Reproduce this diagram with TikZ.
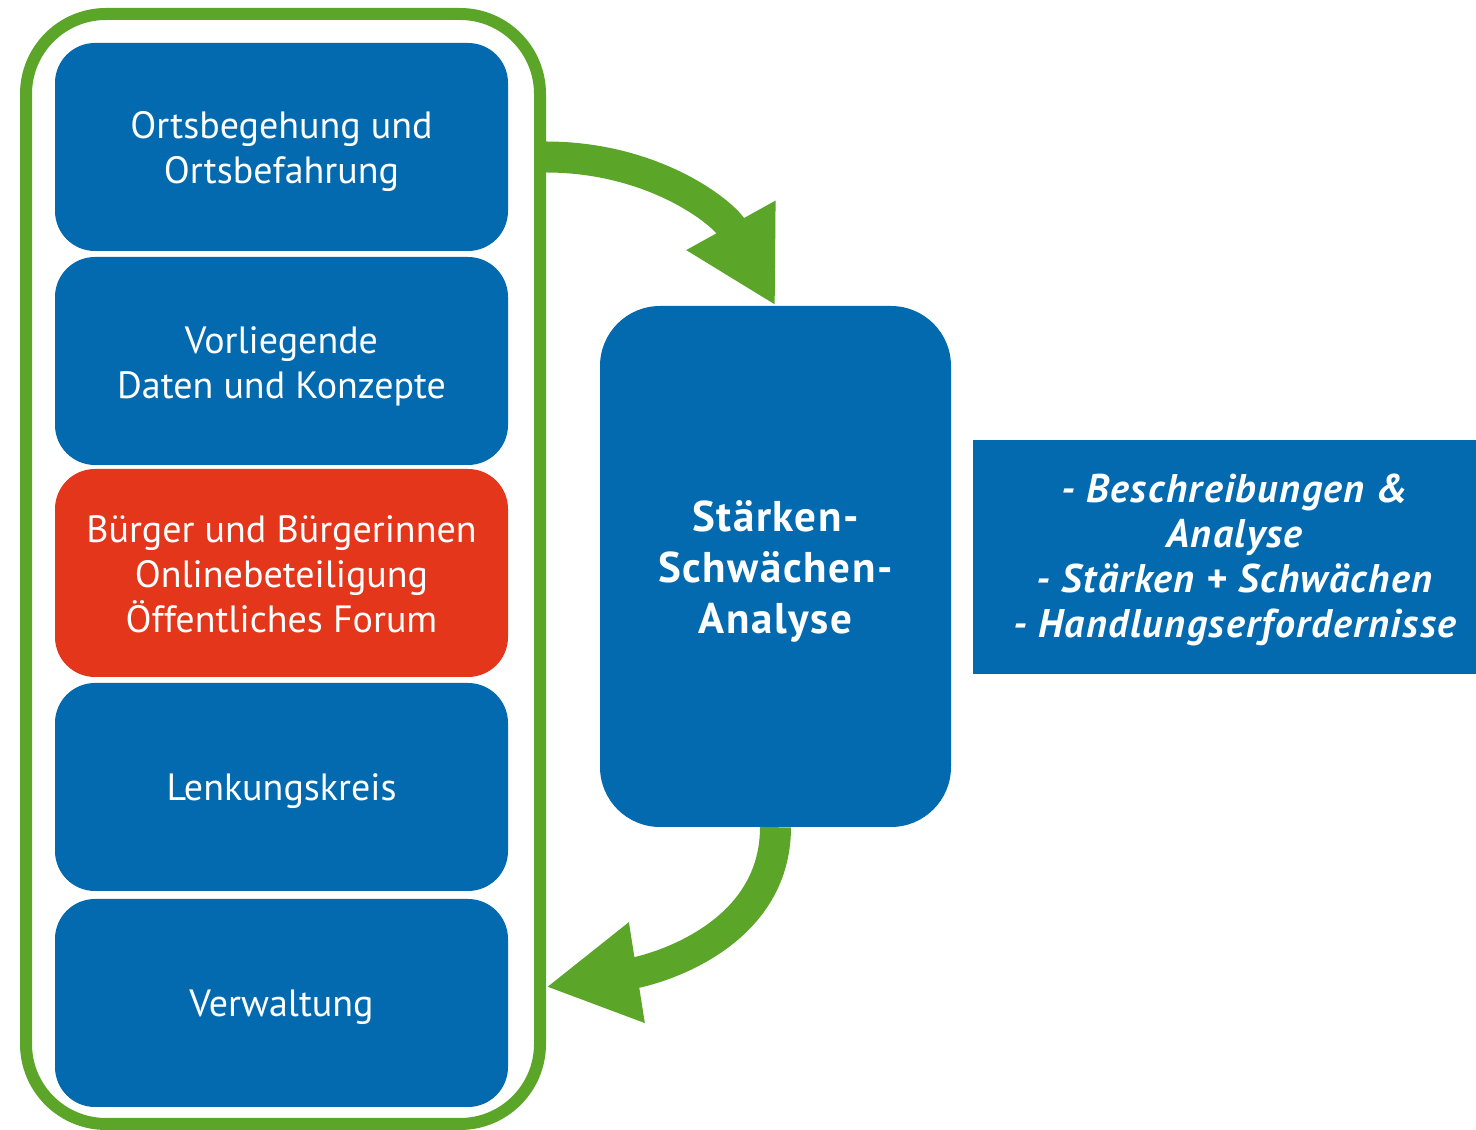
\documentclass[tikz,border=0pt]{standalone}
\usepackage{fontspec}
\setmainfont{PT Sans}
\newfontfamily\spacedfont[LetterSpace=3.7]{PT Sans}
\usetikzlibrary{arrows.meta}
\definecolor{cblue}{RGB}{3,106,175}
\definecolor{cred}{RGB}{227,54,27}
\definecolor{cgreen}{RGB}{91,165,40}
\begin{document}
\begin{tikzpicture}[x=1pt,y=1pt,
  item/.style={fill=cblue, rounded corners=40pt, minimum width=453pt, minimum height=208pt,
    inner sep=0pt},
  itemred/.style={item, fill=cred},
  txt/.style={text=white, align=center, inner sep=0pt, font=\fontsize{38}{45}\selectfont},
  frame/.style={draw=cgreen, line width=12pt, rounded corners=80pt, minimum width=514pt,
    minimum height=1110pt, inner sep=0pt},
  flow/.style={draw=cgreen, line width=31pt, -{Triangle[length=92pt,width=95pt]}}
]
\useasboundingbox (0,0) rectangle (1476,1130);
\node[frame] (frame) at (283,561) {};
\node[item] (b1) at (281.5,983) {};
\node[item] (b2) at (281.5,769) {};
\node[itemred] (b3) at (281.5,557) {};
\node[item] (b4) at (281.5,343) {};
\node[item] (b5) at (281.5,127) {};
\node[txt] (t1) at ([yshift=-5pt]b1.center) {Ortsbegehung und\\Ortsbefahrung};
\node[txt] (t2) at ([yshift=-5pt]b2.center) {Vorliegende\\Daten und Konzepte};
\node[txt] (t3) at ([yshift=-1pt]b3.center) {Bürger und Bürgerinnen\\Onlinebeteiligung\\Öffentliches Forum};
\node[txt] (t4) at ([yshift=-4pt]b4.center) {Lenkungskreis};
\node[txt] (t5) at ([yshift=-4pt]b5.center) {Verwaltung};
\node[item, rounded corners=60pt, minimum width=351pt, minimum height=521pt] (ssa) at (775.5,563.5) {};
\node[txt, font=\spacedfont\bfseries\fontsize{43}{51}\selectfont] (tssa) at ([yshift=-5pt]ssa.center)
  {Stärken-\\Schwächen-\\Analyse};
\node[fill=cblue, minimum width=523pt, minimum height=234pt, inner sep=0pt] (res) at (1234.5,573) {};
\node[txt, font=\spacedfont\bfseries\itshape\fontsize{40}{45}\selectfont] (tres) at ([yshift=-3pt]res.center)
  {- Beschreibungen \&\\Analyse\\- Stärken + Schwächen\\- Handlungserfordernisse};
\coordinate (a1s) at (546,973);
\coordinate (a2e) at (546,143);
\draw[flow] (a1s) to[out=0,in=119] (ssa.north);
\draw[flow] (ssa.south) to[out=-90,in=9] (a2e);
\end{tikzpicture}
\end{document}
